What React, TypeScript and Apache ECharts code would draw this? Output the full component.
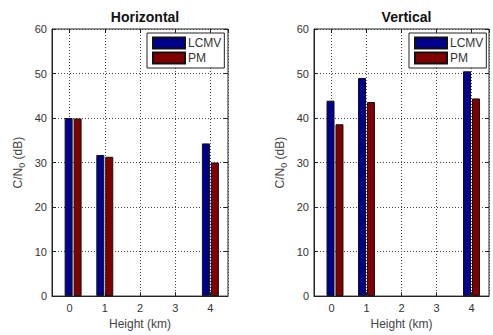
import React, { useEffect, useRef } from "react";
import * as echarts from "echarts";

const heights = [0.1, 1, 4];
const tickLabels = ["0", "1", "2", "3", "4"];
const horizLCMV = [40.0, 31.7, 34.3];
const horizPM = [39.9, 31.3, 30.0];
const vertLCMV = [43.9, 49.0, 50.5];
const vertPM = [38.6, 43.6, 44.4];
const titles = ["Horizontal", "Vertical"];
const seriesNames = ["LCMV", "PM"];
const seriesColors = ["#00008F", "#800000"];

const FONT = "'Liberation Sans', Arial, Helvetica, sans-serif";
const TEXT = "#333";

export default function App() {
  const ref = useRef<HTMLDivElement>(null);
  useEffect(() => {
    if (!ref.current) return;
    const chart = echarts.init(ref.current, undefined, { renderer: "svg" });
    const grids = [
      { left: 52, top: 29, width: 176, height: 275 },
      { left: 314, top: 29, width: 175, height: 275 },
    ];
    const dotted = { type: [1, 2] as any, color: "#444", width: 1 };
    const xAxes: any[] = [];
    const yAxes: any[] = [];
    grids.forEach((_, gi) => {
      xAxes.push({
        type: "value",
        gridIndex: gi,
        min: -0.5,
        max: 4.5,
        splitNumber: 5,
        position: "bottom",
        axisLine: { show: true, onZero: false, lineStyle: { color: "#222" } },
        axisTick: { show: true, inside: true, length: 4, lineStyle: { color: "#222" } },
        axisLabel: {
          show: true,
          fontSize: 11,
          color: TEXT,
          fontFamily: FONT,
          margin: 6,
          showMinLabel: false,
          showMaxLabel: false,
          formatter: (v: number) => {
            const i = Math.round(v);
            return Math.abs(v - i) < 1e-6 && i >= 0 && i < tickLabels.length ? tickLabels[i] : "";
          },
        },
        splitLine: { show: true, lineStyle: dotted },
        name: "Height (km)",
        nameLocation: "middle",
        nameGap: 19,
        nameTextStyle: { fontSize: 12, color: "#444", fontFamily: FONT },
      });
      xAxes.push({
        type: "value",
        gridIndex: gi,
        min: -0.5,
        max: 4.5,
        splitNumber: 5,
        position: "top",
        axisLine: { show: false, onZero: false },
        axisTick: { show: true, inside: true, length: 4, lineStyle: { color: "#222" } },
        axisLabel: { show: false },
        splitLine: { show: false },
      });
      yAxes.push({
        type: "value",
        gridIndex: gi,
        min: 0,
        max: 60,
        interval: 10,
        position: "left",
        axisLine: { show: true, onZero: false, lineStyle: { color: "#222" } },
        axisTick: { show: true, inside: true, length: 4, lineStyle: { color: "#222" } },
        axisLabel: { fontSize: 11, color: TEXT, fontFamily: FONT, margin: 5 },
        splitLine: { show: true, lineStyle: dotted },
        name: "C/N{sub|0} (dB)",
        nameLocation: "middle",
        nameGap: 26,
        nameTextStyle: {
          fontSize: 12,
          color: "#444",
          fontFamily: FONT,
          rich: { sub: { fontSize: 9, color: "#444", fontFamily: FONT, padding: [7, 0, 0, 0] } },
        },
      });
      yAxes.push({
        type: "value",
        gridIndex: gi,
        min: 0,
        max: 60,
        interval: 10,
        position: "right",
        axisLine: { show: false, onZero: false },
        axisTick: { show: true, inside: true, length: 4, lineStyle: { color: "#222" } },
        axisLabel: { show: false },
        splitLine: { show: false },
      });
    });

    const datasets = [
      [horizLCMV, horizPM],
      [vertLCMV, vertPM],
    ];
    const series: any[] = [];
    datasets.forEach((pair, gi) => {
      pair.forEach((vals, si) => {
        series.push({
          type: "bar",
          name: seriesNames[si],
          xAxisIndex: gi * 2,
          yAxisIndex: gi * 2,
          data: heights.map((h, i) => [h, vals[i]]),
          barWidth: 8,
          barGap: "12%",
          itemStyle: { color: seriesColors[si], borderColor: "#111", borderWidth: 1 },
          z: 3,
        });
      });
    });

    chart.setOption({
      animation: false,
      backgroundColor: "#fff",
      title: grids.map((g, gi) => ({
        text: titles[gi],
        left: g.left + g.width / 2,
        textAlign: "center",
        top: 5,
        textStyle: { fontSize: 14, fontWeight: "bold", color: "#111", fontFamily: FONT },
      })),
      grid: grids.map((g) => ({
        ...g,
        show: true,
        borderColor: "#222",
        borderWidth: 1,
        backgroundColor: "#fff",
      })),
      legend: [
        { left: 147, top: 33 },
        { left: 409, top: 33 },
      ].map((p) => ({
        ...p,
        orient: "vertical",
        data: seriesNames,
        itemWidth: 32,
        itemHeight: 11,
        itemGap: 1,
        padding: [3, 3, 3, 5],
        borderColor: "#222",
        borderWidth: 1,
        backgroundColor: "#fff",
        icon: "rect",
        textStyle: { fontSize: 12, lineHeight: 14, color: TEXT, fontFamily: FONT, padding: [0, 0, 0, -2] },
      })),
      xAxis: xAxes,
      yAxis: yAxes,
      series,
    });
    return () => chart.dispose();
  }, []);
  return <div ref={ref} style={{ width: 493, height: 335, position: "absolute", left: 0, top: 0 }} />;
}
